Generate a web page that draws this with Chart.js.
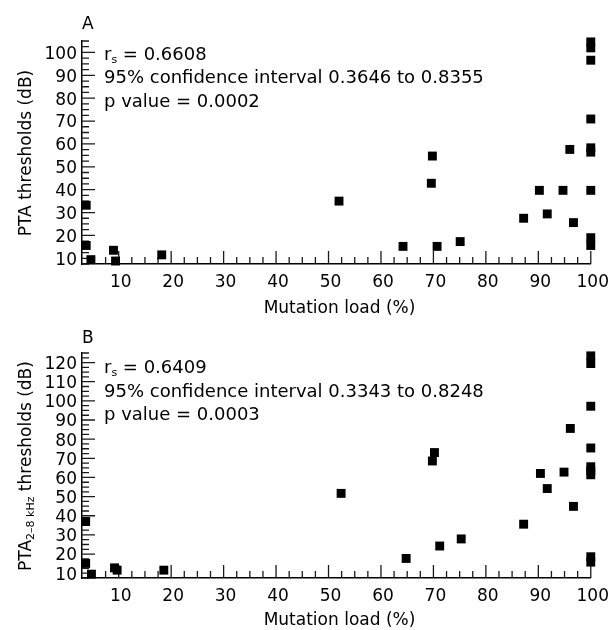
<!DOCTYPE html>
<html>
<head>
<meta charset="utf-8">
<script src="https://cdn.jsdelivr.net/npm/chart.js@4.4.1/dist/chart.umd.min.js"></script>
<style>
  body { margin: 0; background: #fff; }
  #fig { position: relative; width: 615px; height: 630px; font-family: "DejaVu Sans", sans-serif; color: #000; }
  .panel { position: absolute; left: 0; width: 615px; height: 315px; }
  .letter { position: absolute; left: 82px; font-size: 17px; line-height: 20px; }
  .stats { position: absolute; left: 104px; font-size: 18px; line-height: 23.5px; white-space: nowrap; }
  .stats sub, .ytitle sub { font-size: 11px; vertical-align: -3px; line-height: 0; }
  .xtitle { position: absolute; left: 82px; width: 515px; text-align: center; font-size: 17px; line-height: 20px; white-space: nowrap; }
  .ytitle { position: absolute; font-size: 17px; line-height: 20px; white-space: nowrap; transform: translate(-50%, -50%) rotate(-90deg); }
</style>
</head>
<body>
<div id="fig">
  <div class="panel" style="top:0"><canvas id="chartA" width="615" height="315"></canvas></div>
  <div class="panel" style="top:315px"><canvas id="chartB" width="615" height="315"></canvas></div>

  <div class="letter" style="top:13px">A</div>
  <div class="stats" style="top:41.5px">
    r<sub>s</sub> = 0.6608<br>95% confidence interval 0.3646 to 0.8355<br>p value = 0.0002
  </div>
  <div class="xtitle" style="top:297px">Mutation load (%)</div>
  <div class="ytitle" style="left:25px;top:153px">PTA thresholds (dB)</div>

  <div class="letter" style="top:327px">B</div>
  <div class="stats" style="top:355px">
    r<sub>s</sub> = 0.6409<br>95% confidence interval 0.3343 to 0.8248<br>p value = 0.0003
  </div>
  <div class="xtitle" style="top:609px">Mutation load (%)</div>
  <div class="ytitle" style="left:25px;top:466px">PTA<sub>2–8 kHz</sub> thresholds (dB)</div>
</div>

<script>
// --- data ---
// Panel A: PTA thresholds
const mutationLoadA = [3.8, 3.8, 4.7, 9.0, 9.4, 18.2, 52.0, 69.8, 69.6, 64.2, 70.7, 75.1, 87.2, 90.2, 91.7, 94.7, 96.0, 96.7, 100, 100, 100, 100, 100, 100, 100, 100, 100];
const ptaA          = [33.2, 15.6, 9.4, 13.5, 8.8, 11.5, 35.0, 54.7, 42.8, 15.2, 15.2, 17.3, 27.5, 39.7, 29.4, 39.7, 57.6, 25.6, 104.6, 102.0, 96.6, 70.9, 58.3, 56.4, 39.7, 19.0, 15.6];

// Panel B: PTA 2-8 kHz thresholds
const mutationLoadB = [3.7, 3.7, 4.8, 9.2, 9.7, 18.6, 52.4, 70.2, 69.8, 64.8, 71.2, 75.3, 87.2, 90.4, 91.7, 94.9, 96.1, 96.7, 100, 100, 100, 100, 100, 100, 100, 100, 100];
const pta28B        = [37.0, 15.1, 9.5, 12.8, 11.6, 11.6, 51.7, 73.0, 68.6, 17.7, 24.2, 27.9, 35.6, 62.1, 54.2, 62.8, 85.6, 44.9, 123.5, 119.5, 97.2, 75.4, 65.6, 63.5, 61.4, 18.6, 15.8];

// label tick utama
const xTickLabels  = [10, 20, 30, 40, 50, 60, 70, 80, 90, 100];
const yTickLabelsA = [10, 20, 30, 40, 50, 60, 70, 80, 90, 100];
const yTickLabelsB = [10, 20, 30, 40, 50, 60, 70, 80, 90, 100, 110, 120];

const MINOR_STEP = 2.5;
const FONT = { family: 'DejaVu Sans', size: 17 };

// tick kecil tiap 2.5 antara min dan max
const buildTicks = (min, max) => {
  const out = [];
  for (let v = Math.ceil(min / MINOR_STEP) * MINOR_STEP; v <= max + 1e-9; v += MINOR_STEP) out.push({ value: +v.toFixed(2) });
  return out;
};

// tick menghadap ke dalam, tick utama lebih panjang
const innerTicks = {
  id: 'innerTicks',
  beforeDatasetsDraw(chart) {
    const { ctx, chartArea, scales: { x, y } } = chart;
    const yMajor = chart.options.plugins.innerTicks.yMajor;
    ctx.save();
    ctx.strokeStyle = '#1a1a1a';
    ctx.lineWidth = 1.3;
    ctx.beginPath();
    x.ticks.forEach(t => {
      const px = x.getPixelForValue(t.value);
      const len = xTickLabels.includes(t.value) ? 13 : 7;
      ctx.moveTo(px, chartArea.bottom);
      ctx.lineTo(px, chartArea.bottom - len);
    });
    y.ticks.forEach(t => {
      const py = y.getPixelForValue(t.value);
      const len = yMajor.includes(t.value) ? 13 : 7;
      ctx.moveTo(chartArea.left, py);
      ctx.lineTo(chartArea.left + len, py);
    });
    ctx.stroke();
    ctx.restore();
  }
};

const drawPanel = (canvasId, xs, ys, yMax, yMajor, padTop, xHeight) => {
  const ctx = document.getElementById(canvasId).getContext('2d');
  return new Chart(ctx, {
    type: 'scatter',
    data: {
      datasets: [{
        data: xs.map((v, i) => ({ x: v, y: ys[i] })),
        pointStyle: 'rect',
        pointRadius: 6.3,
        pointHoverRadius: 6.3,
        backgroundColor: '#000',
        borderWidth: 0,
        clip: false
      }]
    },
    options: {
      responsive: false,
      devicePixelRatio: 1,
      animation: false,
      layout: { padding: { top: padTop, right: 18, left: 0, bottom: 0 } },
      plugins: { legend: { display: false }, tooltip: { enabled: false }, innerTicks: { yMajor } },
      scales: {
        x: {
          type: 'linear', min: 3, max: 100,
          afterBuildTicks: s => { s.ticks = buildTicks(s.min, s.max); },
          afterFit: s => { s.height = xHeight; },
          grid: { display: true, drawOnChartArea: false, drawTicks: false },
          border: { display: true, color: '#000', width: 1.5 },
          ticks: {
            autoSkip: false, maxRotation: 0, padding: 8, labelOffset: 2, color: '#000', font: FONT,
            callback: v => xTickLabels.includes(v) ? String(v) : ''
          }
        },
        y: {
          type: 'linear', min: 7.5, max: yMax,
          afterBuildTicks: s => { s.ticks = buildTicks(s.min, s.max); },
          afterFit: s => { s.width = 82; },
          grid: { display: true, drawOnChartArea: false, drawTicks: false },
          border: { display: true, color: '#000', width: 1.5 },
          ticks: {
            autoSkip: false, padding: 5, labelOffset: 2, color: '#000', font: FONT,
            callback: v => yMajor.includes(v) ? String(v) : ''
          }
        }
      }
    },
    plugins: [innerTicks]
  });
};

drawPanel('chartA', mutationLoadA, ptaA, 105, yTickLabelsA, 41, 51);
drawPanel('chartB', mutationLoadB, pta28B, 125, yTickLabelsB, 38, 52);
</script>
</body>
</html>
